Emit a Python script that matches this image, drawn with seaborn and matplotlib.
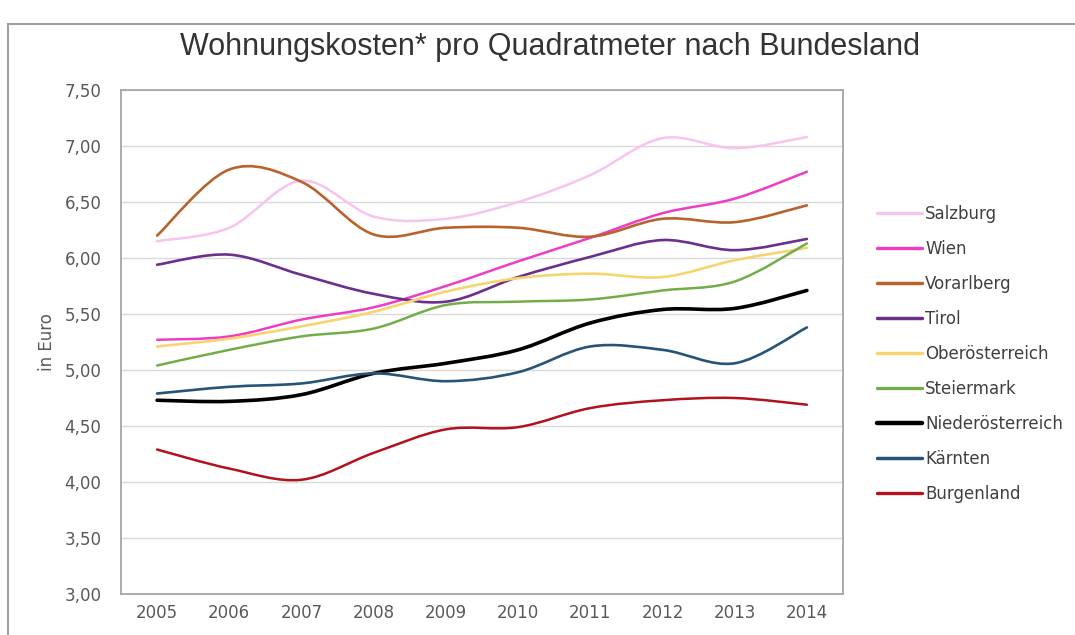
import numpy as np
import pandas as pd
import matplotlib
matplotlib.use("Agg")
import matplotlib.pyplot as plt
from matplotlib.path import Path
from matplotlib.patches import PathPatch, Rectangle
from matplotlib.lines import Line2D
from matplotlib.ticker import FuncFormatter
import seaborn as sns

# values (Euro per m²)
years = [2005, 2006, 2007, 2008, 2009, 2010, 2011, 2012, 2013, 2014]
regions = ["Salzburg", "Wien", "Vorarlberg", "Tirol", "Oberösterreich",
           "Steiermark", "Niederösterreich", "Kärnten", "Burgenland"]
salzburg = [6.15, 6.27, 6.69, 6.37, 6.35, 6.50, 6.74, 7.07, 6.98, 7.08]
wien = [5.27, 5.30, 5.45, 5.56, 5.75, 5.97, 6.18, 6.40, 6.53, 6.77]
vorarlberg = [6.20, 6.79, 6.68, 6.21, 6.27, 6.27, 6.19, 6.35, 6.32, 6.47]
tirol = [5.94, 6.03, 5.85, 5.68, 5.61, 5.83, 6.01, 6.16, 6.07, 6.17]
oberoesterreich = [5.21, 5.28, 5.39, 5.52, 5.70, 5.82, 5.86, 5.83, 5.98, 6.09]
steiermark = [5.04, 5.18, 5.30, 5.37, 5.58, 5.61, 5.63, 5.71, 5.79, 6.13]
niederoesterreich = [4.73, 4.72, 4.78, 4.97, 5.06, 5.18, 5.42, 5.54, 5.55, 5.71]
kaernten = [4.79, 4.85, 4.88, 4.97, 4.90, 4.98, 5.21, 5.18, 5.06, 5.38]
burgenland = [4.29, 4.12, 4.02, 4.26, 4.47, 4.49, 4.66, 4.73, 4.75, 4.69]

series = [salzburg, wien, vorarlberg, tirol, oberoesterreich,
          steiermark, niederoesterreich, kaernten, burgenland]
colors = ["#f6c4ee", "#ee3cc6", "#b8632c", "#6b2f8e", "#f6d46e",
          "#72ad4a", "#000000", "#265479", "#b0121e"]
widths = [1.8, 1.8, 1.9, 1.9, 1.9, 1.8, 2.6, 1.9, 1.8]

df = pd.DataFrame({"Jahr": years})
for name, vals in zip(regions, series):
    df[name] = vals
long_df = df.melt(id_vars="Jahr", var_name="Bundesland", value_name="Euro")

sns.set_style("white")
plt.rcParams["font.family"] = ["DejaVu Sans"]


def smooth_path(xs, ys):
    # Bezier path through the data points (like a "smoothed line")
    pts = np.column_stack([xs, ys]).astype(float)
    n = len(pts)
    verts = [pts[0]]
    codes = [Path.MOVETO]
    for i in range(n - 1):
        p0 = pts[max(i - 1, 0)]
        p1 = pts[i]
        p2 = pts[i + 1]
        p3 = pts[min(i + 2, n - 1)]
        verts += [p1 + (p2 - p0) / 6, p2 - (p3 - p1) / 6, p2]
        codes += [Path.CURVE4] * 3
    return Path(verts, codes)


fig = plt.figure(figsize=(10.75, 6.35), dpi=100)
ax = fig.add_axes([121 / 1075, 1 - 594 / 635, 722 / 1075, 504 / 635])

palette = dict(zip(regions, colors))
handles = []
for name, lw in zip(regions, widths):
    sub = long_df[long_df["Bundesland"] == name]
    patch = PathPatch(smooth_path(sub["Jahr"], sub["Euro"]), facecolor="none",
                      edgecolor=palette[name], lw=lw, capstyle="round",
                      joinstyle="round", zorder=3)
    ax.add_patch(patch)
    handles.append(Line2D([], [], color=palette[name], lw=lw + 0.6))

ax.set_xlim(2004.5, 2014.5)
ax.set_ylim(3.0, 7.5)
ax.set_xticks(years)
ax.set_yticks(np.arange(3.0, 7.51, 0.5))
ax.yaxis.set_major_formatter(FuncFormatter(lambda v, p: f"{v:.2f}".replace(".", ",")))
ax.grid(axis="y", color="#d9d9d9", lw=1.0)
ax.set_axisbelow(True)
for sp in ax.spines.values():
    sp.set_color("#a6a6a6")
    sp.set_linewidth(1.3)
ax.tick_params(axis="y", length=4, width=1, color="#a6a6a6", pad=10,
               labelsize=12, labelcolor="#595959")
ax.tick_params(axis="x", length=0, pad=7, labelsize=12, labelcolor="#595959")
ax.set_ylabel("in Euro", fontsize=12, color="#595959", labelpad=6)
ax.set_xlabel("")

fig.text(0.512, 1 - 47 / 635, "Wohnungskosten* pro Quadratmeter nach Bundesland",
         ha="center", va="center", fontsize=22, color="#333333",
         family=["Liberation Sans", "DejaVu Sans"])

fig.legend(handles, regions, loc="upper left",
           bbox_to_anchor=(877 / 1075, 1 - 205 / 635), frameon=False,
           borderpad=0, borderaxespad=0, handlelength=2.7, handletextpad=0.18,
           labelspacing=1.02, fontsize=12, labelcolor="#404040")

fig.patches.append(Rectangle((8 / 1075, -0.05), 1.1, 0.05 + 611 / 635,
                             transform=fig.transFigure, fill=False,
                             edgecolor="#a0a0a0", lw=1.5))

fig.savefig("out.png", dpi=100)
